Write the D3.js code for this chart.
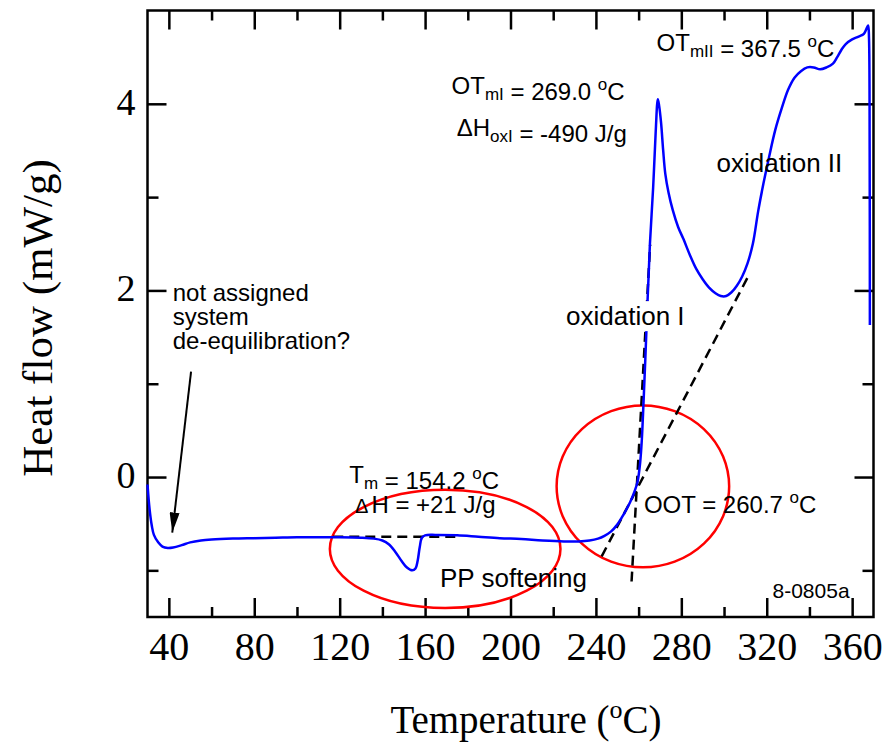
<!DOCTYPE html>
<html>
<head>
<meta charset="utf-8">
<script src="https://cdn.jsdelivr.net/npm/d3@7"></script>
<style>
  body { margin: 0; background: #fff; }
  svg { display: block; }
</style>
</head>
<body>
<script>
// DSC trace, temperature (C) vs heat flow (mW/g)
var temps = [30, 31, 32, 33, 35, 37, 39.5, 42, 46, 50, 55, 60, 70, 80, 90, 100, 110, 120, 130,
    136, 140, 143, 146, 149, 151.5, 154, 155.5, 156.5, 157.5, 158.5, 160, 165, 175, 185, 195,
    205, 215, 225, 232, 237, 241, 244, 247, 250, 253, 256, 258, 259.5, 260.7, 261.5, 262.3,
    263.2, 264.2, 265.3, 266.8, 268, 269, 269.6, 270.5, 271.5, 272.5, 274, 276, 278.5, 281,
    284, 287, 290, 293, 296, 298.5, 301, 303.5, 306, 308.5, 311, 313.5, 316, 318.5, 321, 324,
    327, 330, 333, 336, 339, 342, 345, 348, 351, 353, 355, 357, 360, 363, 365.5, 367, 367.5,
    367.9, 368.2, 368.3];
var heatFlow = [-0.08, -0.35, -0.52, -0.62, -0.70, -0.745, -0.76, -0.755, -0.73, -0.70, -0.68,
    -0.67, -0.66, -0.655, -0.65, -0.645, -0.645, -0.645, -0.65, -0.66, -0.68, -0.72, -0.80,
    -0.90, -0.97, -1.0, -0.98, -0.90, -0.75, -0.65, -0.625, -0.62, -0.625, -0.64, -0.655,
    -0.665, -0.68, -0.69, -0.69, -0.68, -0.66, -0.63, -0.585, -0.51, -0.40, -0.27, -0.16,
    -0.05, 0.15, 0.4, 0.8, 1.3, 1.9, 2.5, 3.1, 3.7, 4.05, 3.98, 3.80, 3.50, 3.25, 3.05, 2.86,
    2.68, 2.55, 2.38, 2.23, 2.12, 2.03, 1.97, 1.94, 1.94, 1.98, 2.05, 2.15, 2.29, 2.5, 2.85,
    3.15, 3.42, 3.72, 3.95, 4.15, 4.28, 4.35, 4.39, 4.39, 4.37, 4.39, 4.43, 4.5, 4.58, 4.64,
    4.69, 4.72, 4.75, 4.82, 4.84, 4.7, 3.5, 1.63];

// construction lines (dashed): [x1, y1, x2, y2]
var meltBaseline = [117, -0.64, 176, -0.64];
var steepTangent = [256.7, -1.12, 265.4, 2.49];
var shallowTangent = [242.7, -0.85, 311.3, 2.15];

// red ellipses: [cx, cy, rx, ry] in data units
var softeningEllipse = [169.4, -0.77, 54, 0.634];
var ootEllipse = [262, -0.10, 40.4, 0.868];

var xMajor = [40, 80, 120, 160, 200, 240, 280, 320, 360];
var xMinor = [60, 100, 140, 180, 220, 260, 300, 340];
var yMajor = [0, 2, 4];
var yMinor = [-1, 1, 3];

var W = 885, H = 747;
var padL = 147.5, padR = 873.5, padT = 10.5, padB = 617;

var svg = d3.select("body").append("svg")
    .attr("width", W)
    .attr("height", H);

var xScale = d3.scaleLinear().domain([30, 370]).range([padL, padR]);
var yScale = d3.scaleLinear().domain([-1.5, 5]).range([padB, padT]);

var serif = "'Liberation Serif', 'Times New Roman', serif";
var sans = "'Liberation Sans', Arial, Helvetica, sans-serif";

//axes: ticks point inward on all four sides
function styleAxis(g) {
    g.select(".domain").remove();
    g.selectAll("line").attr("stroke", "#000").attr("stroke-width", 2.5);
}
svg.append("g").attr("transform", "translate(0," + padB + ")")
    .call(d3.axisBottom(xScale).tickValues(xMinor).tickSize(-10).tickFormat(""))
    .call(styleAxis);
var xAx = svg.append("g").attr("transform", "translate(0," + padB + ")")
    .call(d3.axisBottom(xScale).tickValues(xMajor).tickSize(-19).tickFormat(d3.format("d")))
    .call(styleAxis);
xAx.selectAll("text")
    .attr("y", 43).attr("dy", 0)
    .attr("font-family", serif).attr("font-size", 40).attr("fill", "#000");

svg.append("g").attr("transform", "translate(0," + padT + ")")
    .call(d3.axisTop(xScale).tickValues(xMinor).tickSize(-10).tickFormat(""))
    .call(styleAxis);
svg.append("g").attr("transform", "translate(0," + padT + ")")
    .call(d3.axisTop(xScale).tickValues(xMajor).tickSize(-19).tickFormat(""))
    .call(styleAxis);

svg.append("g").attr("transform", "translate(" + padL + ",0)")
    .call(d3.axisLeft(yScale).tickValues(yMinor).tickSize(-11).tickFormat(""))
    .call(styleAxis);
var yAx = svg.append("g").attr("transform", "translate(" + padL + ",0)")
    .call(d3.axisLeft(yScale).tickValues(yMajor).tickSize(-19).tickFormat(d3.format("d")))
    .call(styleAxis);
yAx.selectAll("text")
    .attr("x", -12).attr("dy", "0.27em")
    .attr("font-family", serif).attr("font-size", 38).attr("fill", "#000");

svg.append("g").attr("transform", "translate(" + padR + ",0)")
    .call(d3.axisRight(yScale).tickValues(yMinor).tickSize(-11).tickFormat(""))
    .call(styleAxis);
svg.append("g").attr("transform", "translate(" + padR + ",0)")
    .call(d3.axisRight(yScale).tickValues(yMajor).tickSize(-19).tickFormat(""))
    .call(styleAxis);

//frame
svg.append("rect")
    .attr("x", padL).attr("y", padT)
    .attr("width", padR - padL).attr("height", padB - padT)
    .attr("fill", "none").attr("stroke", "#000").attr("stroke-width", 2.5);

//axis titles
svg.append("text")
    .attr("transform", "translate(52,318) rotate(-90)")
    .attr("text-anchor", "middle")
    .attr("font-family", serif).attr("font-size", 43)
    .text("Heat flow (mW/g)");

var xTitle = svg.append("text")
    .attr("x", 526).attr("y", 733)
    .attr("text-anchor", "middle")
    .attr("font-family", serif).attr("font-size", 39);
xTitle.append("tspan").text("Temperature (");
xTitle.append("tspan").attr("font-size", 26).attr("dy", -15).text("o");
xTitle.append("tspan").attr("dy", 15).text("C)");

//ellipses
[softeningEllipse, ootEllipse].forEach(function (e) {
    svg.append("ellipse")
        .attr("cx", xScale(e[0]))
        .attr("cy", yScale(e[1]))
        .attr("rx", xScale(e[0] + e[2]) - xScale(e[0]))
        .attr("ry", yScale(e[1] - e[3]) - yScale(e[1]))
        .attr("fill", "none")
        .attr("stroke", "#ff0000")
        .attr("stroke-width", 2.5);
});

//dashed construction lines
[meltBaseline, steepTangent, shallowTangent].forEach(function (l) {
    svg.append("line")
        .attr("x1", xScale(l[0])).attr("y1", yScale(l[1]))
        .attr("x2", xScale(l[2])).attr("y2", yScale(l[3]))
        .attr("stroke", "#000")
        .attr("stroke-width", 2.5)
        .attr("stroke-dasharray", "10,6");
});

//DSC curve
var line = d3.line()
    .x(function (d, i) { return xScale(temps[i]); })
    .y(function (d) { return yScale(d); })
    .curve(d3.curveCatmullRom.alpha(0.5));
svg.append("path")
    .datum(heatFlow)
    .attr("d", line)
    .attr("fill", "none")
    .attr("stroke", "#0000ff")
    .attr("stroke-width", 2.5);

//annotations
var fs = 24;
function label(x, y, size) {
    return svg.append("text")
        .attr("x", xScale(x)).attr("y", yScale(y))
        .attr("font-family", sans)
        .attr("font-size", size || fs)
        .attr("fill", "#000");
}
function sub(t, s) {
    t.append("tspan").attr("font-size", 17).attr("dy", 6).text(s);
    t.append("tspan").attr("dy", -6).text("");
}
function degC(t, before) {
    t.append("tspan").text(before);
    t.append("tspan").attr("font-size", 17).attr("dy", -10).text("o");
    t.append("tspan").attr("dy", 10).text("C");
}

var note = label(41.8, 1.886);
note.append("tspan").text("not assigned");
note.append("tspan").attr("x", xScale(41.8)).attr("dy", 24).text("system");
note.append("tspan").attr("x", xScale(41.8)).attr("dy", 24).text("de-equilibration?");

//arrow to the start-up dip
var a0 = [50.4, 1.13], a1 = [41.6, -0.595];
svg.append("defs").append("marker")
    .attr("id", "head")
    .attr("viewBox", "0 0 20 10")
    .attr("refX", 20).attr("refY", 5)
    .attr("markerWidth", 20).attr("markerHeight", 10)
    .attr("markerUnits", "userSpaceOnUse")
    .attr("orient", "auto")
    .append("path").attr("d", "M0,0 L20,5 L0,10 Z").attr("fill", "#000");
svg.append("line")
    .attr("x1", xScale(a0[0])).attr("y1", yScale(a0[1]))
    .attr("x2", xScale(a1[0])).attr("y2", yScale(a1[1]))
    .attr("stroke", "#000").attr("stroke-width", 2)
    .attr("marker-end", "url(#head)");

var tm = label(124.5, -0.064);
tm.append("tspan").text("T");
sub(tm, "m");
degC(tm, " = 154.2 ");

var dh = label(127.2, -0.387);
dh.append("tspan").attr("font-size", 20).text("\u0394");
dh.append("tspan").attr("dx", 3).text("H = +21 J/g");

label(167.0, -1.175, 26).text("PP softening");

var oot = label(262.5, -0.387);
degC(oot, "OOT = 260.7 ");

label(322.7, -1.30, 21).text("8-0805a");

var ox1 = label(226.0, 1.628, 26).text("oxidation I");
var bb = ox1.node().getBBox();
svg.insert("rect", function () { return ox1.node(); })
    .attr("x", bb.x - 2).attr("y", bb.y)
    .attr("width", bb.width + 4).attr("height", bb.height)
    .attr("fill", "#fff");

label(296.5, 3.265, 26).text("oxidation II");

var ot1 = label(172.4, 4.106);
ot1.append("tspan").text("OT");
sub(ot1, "mI");
degC(ot1, " = 269.0 ");

var dhox = label(174.8, 3.658);
dhox.append("tspan").text("\u0394H");
sub(dhox, "oxI");
dhox.append("tspan").text(" = -490 J/g");

var ot2 = label(268.4, 4.571);
ot2.append("tspan").text("OT");
sub(ot2, "mII");
degC(ot2, " = 367.5 ");
</script>
</body>
</html>
